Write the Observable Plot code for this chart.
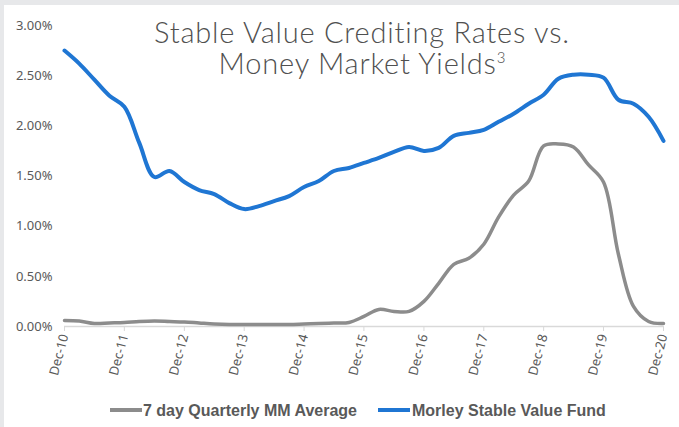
<!DOCTYPE html>
<html><head><meta charset="utf-8">
<script src="https://cdn.jsdelivr.net/npm/d3@7"></script>
<script src="https://cdn.jsdelivr.net/npm/@observablehq/plot@0.6"></script>
<style>
html,body{margin:0;padding:0;background:#e7e8ea;}
#frame{position:relative;width:679px;height:427px;overflow:hidden;}
#panel{position:absolute;left:4px;top:5px;width:675px;height:422px;background:#fff;}
#chart{position:absolute;left:0;top:0;}
#title{position:absolute;left:112px;width:500px;top:16px;text-align:center;font-family:Lato;font-weight:300;font-size:29px;letter-spacing:0.8px;font-variant-ligatures:none;font-feature-settings:"liga" 0;line-height:31px;color:#505050;}
#title .sup{font-size:15px;position:relative;top:-11px;letter-spacing:0;}
.sw{position:absolute;height:4px;width:32px;top:408px;}
.lt{position:absolute;top:403px;font-family:"Liberation Sans";font-weight:bold;font-size:16px;line-height:16px;color:#595959;white-space:nowrap;}
</style>
</head><body>
<div id="frame">
  <div id="panel"></div>
  <div id="chart"></div>
  <div id="title">Stable Value Crediting Rates vs.<br>Money Market Yields<span class="sup">3</span></div>
  <div class="sw" style="left:110px;background:#8c8c8c"></div>
  <div class="lt" style="left:143px">7 day Quarterly MM Average</div>
  <div class="sw" style="left:378px;background:#1f76d3"></div>
  <div class="lt" style="left:412px">Morley Stable Value Fund</div>
</div>
<script>
const quarters = [
  "2010-12","2011-03","2011-06","2011-09","2011-12","2012-03","2012-06","2012-09","2012-12",
  "2013-03","2013-06","2013-09","2013-12","2014-03","2014-06","2014-09","2014-12",
  "2015-03","2015-06","2015-09","2015-12","2016-03","2016-06","2016-09","2016-12",
  "2017-03","2017-06","2017-09","2017-12","2018-03","2018-06","2018-09","2018-12",
  "2019-03","2019-06","2019-09","2019-12","2020-03","2020-06","2020-09","2020-12"
];
const moneyMarket = [
  0.06,0.055,0.03,0.035,0.04,0.05,0.055,0.05,0.045,
  0.035,0.025,0.02,0.02,0.02,0.02,0.02,0.025,
  0.03,0.035,0.04,0.10,0.17,0.15,0.15,0.25,
  0.43,0.62,0.68,0.82,1.09,1.31,1.45,1.80,
  1.82,1.79,1.61,1.44,0.72,0.20,0.05,0.03
];
const stableValue = [
  2.75,2.62,2.46,2.30,2.19,1.83,1.49,1.55,1.44,
  1.36,1.32,1.23,1.17,1.20,1.25,1.30,1.39,
  1.45,1.55,1.58,1.63,1.68,1.74,1.79,1.75,
  1.78,1.90,1.93,1.96,2.04,2.12,2.22,2.31,
  2.47,2.51,2.51,2.48,2.26,2.22,2.09,1.85
];
const seriesNames = ["7 day Quarterly MM Average","Morley Stable Value Fund"];
const yTicks = [0,0.5,1,1.5,2,2.5,3];
const xTickLabels = ["Dec-10","Dec-11","Dec-12","Dec-13","Dec-14","Dec-15","Dec-16","Dec-17","Dec-18","Dec-19","Dec-20"];

const parse = q => new Date(q + "-01T00:00:00Z");
const mmRows = quarters.map((q,i)=>({date:parse(q), v:moneyMarket[i], s:seriesNames[0]}));
const svRows = quarters.map((q,i)=>({date:parse(q), v:stableValue[i], s:seriesNames[1]}));
const xTicks = quarters.filter(q=>q.endsWith("-12")).map(parse);
const fmt = d3.utcFormat("%b-%y");

const chart = Plot.plot({
  width:679, height:390,
  marginLeft:64, marginRight:16, marginTop:25, marginBottom:64,
  style:{fontFamily:"'Noto Sans'", fontSize:"13px", color:"#595959", background:"transparent"},
  x:{type:"utc", domain:[parse(quarters[0]), parse(quarters[quarters.length-1])], label:null},
  y:{domain:[0,3], label:null},
  marks:[
    Plot.ruleY([0],{stroke:"#d9d9d9", strokeWidth:1.5}),
    Plot.axisY({ticks:yTicks, tickSize:0, tickPadding:12, tickFormat:d=>d.toFixed(2)+"%", label:null}),
    Plot.axisX({ticks:xTicks, tickSize:5, tickRotate:-75, tickPadding:3, stroke:"#d9d9d9", tickFormat:d=>xTickLabels[xTicks.findIndex(t=>+t===+d)] ?? fmt(d), label:null}),
    Plot.line(mmRows,{x:"date", y:"v", stroke:"#8c8c8c", strokeWidth:3.5, curve:"catmull-rom"}),
    Plot.line(svRows,{x:"date", y:"v", stroke:"#1f76d3", strokeWidth:4, curve:"catmull-rom"})
  ]
});
document.getElementById("chart").appendChild(chart);
</script>
</body></html>
